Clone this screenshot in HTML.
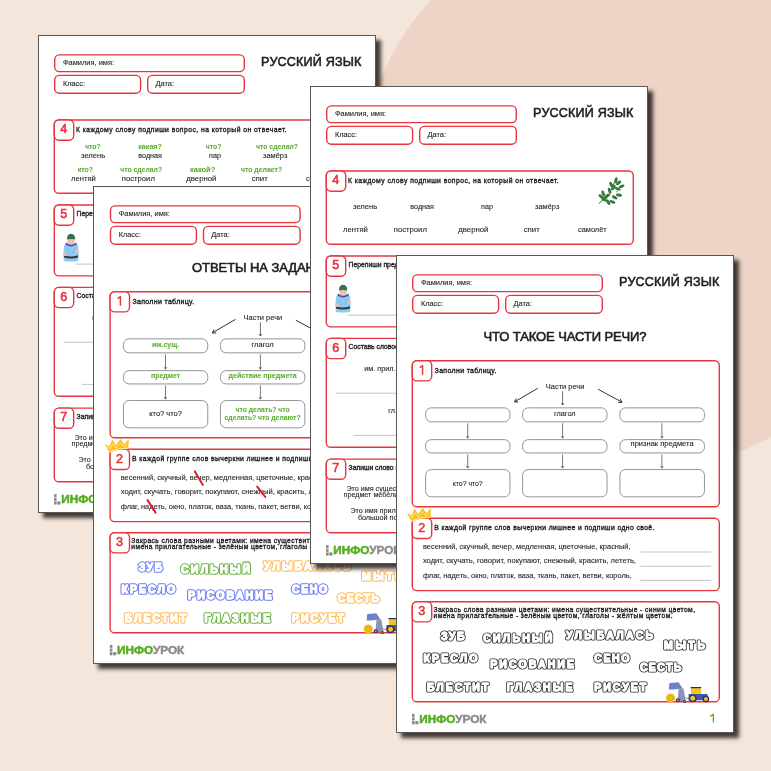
<!DOCTYPE html><html><head><meta charset="utf-8"><style>
html,body{margin:0;padding:0;}
body{width:771px;height:771px;overflow:hidden;position:relative;background:#f4e6da;font-family:"Liberation Sans",sans-serif;}
.circ{position:absolute;left:358.4px;top:-91.9px;width:561.4px;height:561.4px;border-radius:50%;background:#eed4c7;}
.pg{position:absolute;width:338px;height:478px;box-shadow:5px 5px 4px rgba(22,14,10,0.8);}
.pg svg{display:block;}
.pg{will-change:transform;}
</style></head><body>
<div class="circ"></div>
<div class="pg" style="left:38px;top:35px"><svg width="338" height="478" viewBox="0 0 338 478" font-family="Liberation Sans"><rect x="0.5" y="0.5" width="337" height="477" fill="#fff" stroke="#575757" stroke-width="1"/><rect x="16.70" y="19.90" width="189.60" height="16.70" rx="4.6" fill="none" stroke="#e7363f" stroke-width="1.4"/><rect x="16.70" y="40.40" width="85.90" height="17.80" rx="4.6" fill="none" stroke="#e7363f" stroke-width="1.4"/><rect x="109.70" y="40.40" width="96.60" height="17.80" rx="4.6" fill="none" stroke="#e7363f" stroke-width="1.4"/><text x="24.9" y="30.0" font-size="6.8" fill="#262626" stroke="#262626" stroke-width="0.1" textLength="51.2" lengthAdjust="spacingAndGlyphs">Фамилия, имя:</text><text x="24.9" y="50.8" font-size="6.8" fill="#262626" stroke="#262626" stroke-width="0.1" textLength="22.1" lengthAdjust="spacingAndGlyphs">Класс:</text><text x="117.5" y="50.8" font-size="6.8" fill="#262626" stroke="#262626" stroke-width="0.1" textLength="18.5" lengthAdjust="spacingAndGlyphs">Дата:</text><text x="223.1" y="30.8" font-size="12.6" fill="#1e1e1e" stroke="#1e1e1e" stroke-width="0.55" textLength="100.3" lengthAdjust="spacing">РУССКИЙ ЯЗЫК</text><rect x="16.30" y="85.00" width="307.00" height="73.30" rx="4.6" fill="#fff" stroke="#e7363f" stroke-width="1.4"/><rect x="16.30" y="85.00" width="19.40" height="20.20" rx="4.6" fill="#fff" stroke="#e7363f" stroke-width="1.4"/><text x="25.7" y="98.3" font-size="12.6" fill="#e7363f" stroke="#e7363f" stroke-width="0.6" text-anchor="middle">4</text><text x="37.9" y="97" font-size="6.8" fill="#1e1e1e" stroke="#1e1e1e" stroke-width="0.34" textLength="210.7" lengthAdjust="spacing">К каждому слову подпиши вопрос, на который он отвечает.</text><text x="43" y="122.8" font-size="7.4" fill="#262626" stroke="#262626" stroke-width="0.1" textLength="24.2" lengthAdjust="spacingAndGlyphs">зелень</text><text x="100.3" y="122.8" font-size="7.4" fill="#262626" stroke="#262626" stroke-width="0.1" textLength="23.7" lengthAdjust="spacingAndGlyphs">водная</text><text x="171" y="122.8" font-size="7.4" fill="#262626" stroke="#262626" stroke-width="0.1" textLength="11.9" lengthAdjust="spacingAndGlyphs">пар</text><text x="225" y="122.8" font-size="7.4" fill="#262626" stroke="#262626" stroke-width="0.1" textLength="24.3" lengthAdjust="spacingAndGlyphs">замёрз</text><text x="33" y="145.6" font-size="7.4" fill="#262626" stroke="#262626" stroke-width="0.1" textLength="24.8" lengthAdjust="spacingAndGlyphs">лентяй</text><text x="83.8" y="145.6" font-size="7.4" fill="#262626" stroke="#262626" stroke-width="0.1" textLength="33.1" lengthAdjust="spacingAndGlyphs">построил</text><text x="148.2" y="145.6" font-size="7.4" fill="#262626" stroke="#262626" stroke-width="0.1" textLength="30.3" lengthAdjust="spacingAndGlyphs">дверной</text><text x="213.7" y="145.6" font-size="7.4" fill="#262626" stroke="#262626" stroke-width="0.1" textLength="16.1" lengthAdjust="spacingAndGlyphs">спит</text><text x="268" y="145.6" font-size="7.4" fill="#262626" stroke="#262626" stroke-width="0.1" textLength="28.7" lengthAdjust="spacingAndGlyphs">самолёт</text><text x="47" y="114.0" font-size="7.4" fill="#5aae2e" font-weight="bold" stroke="#5aae2e" stroke-width="0.05" textLength="15.8" lengthAdjust="spacingAndGlyphs">что?</text><text x="100.3" y="114.0" font-size="7.4" fill="#5aae2e" font-weight="bold" stroke="#5aae2e" stroke-width="0.05" textLength="23.6" lengthAdjust="spacingAndGlyphs">какая?</text><text x="167.8" y="114.0" font-size="7.4" fill="#5aae2e" font-weight="bold" stroke="#5aae2e" stroke-width="0.05" textLength="15.7" lengthAdjust="spacingAndGlyphs">что?</text><text x="218" y="114.0" font-size="7.4" fill="#5aae2e" font-weight="bold" stroke="#5aae2e" stroke-width="0.05" textLength="42" lengthAdjust="spacingAndGlyphs">что сделал?</text><text x="39.7" y="137.0" font-size="7.4" fill="#5aae2e" font-weight="bold" stroke="#5aae2e" stroke-width="0.05" textLength="15.4" lengthAdjust="spacingAndGlyphs">кто?</text><text x="82.2" y="137.0" font-size="7.4" fill="#5aae2e" font-weight="bold" stroke="#5aae2e" stroke-width="0.05" textLength="41.9" lengthAdjust="spacingAndGlyphs">что сделал?</text><text x="152.1" y="137.0" font-size="7.4" fill="#5aae2e" font-weight="bold" stroke="#5aae2e" stroke-width="0.05" textLength="25.1" lengthAdjust="spacingAndGlyphs">какой?</text><text x="202.9" y="137.0" font-size="7.4" fill="#5aae2e" font-weight="bold" stroke="#5aae2e" stroke-width="0.05" textLength="41.3" lengthAdjust="spacingAndGlyphs">что делает?</text><text x="274" y="137.0" font-size="7.4" fill="#5aae2e" font-weight="bold" stroke="#5aae2e" stroke-width="0.05" textLength="16" lengthAdjust="spacingAndGlyphs">что?</text><g fill="#357a3d"><path d="M288.70000000000005 117.80000000000001 Q298 110 301 104 Q304 98 306 92.5" fill="none" stroke="#357a3d" stroke-width="1"/><ellipse cx="306.0" cy="94.2" rx="3.1" ry="1.55" transform="rotate(-80 306.0 94.2)"/><ellipse cx="308.6" cy="96.9" rx="3.1" ry="1.55" transform="rotate(-40 308.6 96.9)"/><ellipse cx="311.6" cy="100.4" rx="3.1" ry="1.55" transform="rotate(-20 311.6 100.4)"/><ellipse cx="301.2" cy="98.6" rx="3.1" ry="1.55" transform="rotate(-115 301.2 98.6)"/><ellipse cx="307.6" cy="102.9" rx="3.1" ry="1.55" transform="rotate(20 307.6 102.9)"/><ellipse cx="299.6" cy="104.7" rx="3.1" ry="1.55" transform="rotate(-110 299.6 104.7)"/><ellipse cx="308.9" cy="109.1" rx="3.1" ry="1.55" transform="rotate(10 308.9 109.1)"/><ellipse cx="293.2" cy="107.5" rx="3.1" ry="1.55" transform="rotate(-110 293.2 107.5)"/><ellipse cx="291.2" cy="110.6" rx="3.1" ry="1.55" transform="rotate(-140 291.2 110.6)"/><ellipse cx="304.6" cy="111.3" rx="3.1" ry="1.55" transform="rotate(30 304.6 111.3)"/><ellipse cx="298.2" cy="116.2" rx="3.1" ry="1.55" transform="rotate(60 298.2 116.2)"/><ellipse cx="302.4" cy="115.9" rx="3.1" ry="1.55" transform="rotate(20 302.4 115.9)"/><ellipse cx="295.6" cy="111.5" rx="3.1" ry="1.55" transform="rotate(-40 295.6 111.5)"/><ellipse cx="303.5" cy="101.5" rx="3.1" ry="1.55" transform="rotate(-60 303.5 101.5)"/><ellipse cx="297.5" cy="109.5" rx="3.1" ry="1.55" transform="rotate(-30 297.5 109.5)"/><ellipse cx="294.0" cy="113.5" rx="3.1" ry="1.55" transform="rotate(30 294.0 113.5)"/></g><circle cx="303.9" cy="97.0" r="0.85" fill="#ea8a86"/><circle cx="306.9" cy="105.6" r="0.85" fill="#ea8a86"/><circle cx="298.5" cy="107.7" r="0.85" fill="#ea8a86"/><rect x="16.30" y="170.00" width="307.00" height="70.90" rx="4.6" fill="#fff" stroke="#e7363f" stroke-width="1.4"/><rect x="16.30" y="170.00" width="19.40" height="20.20" rx="4.6" fill="#fff" stroke="#e7363f" stroke-width="1.4"/><text x="25.7" y="183.3" font-size="12.6" fill="#e7363f" stroke="#e7363f" stroke-width="0.6" text-anchor="middle">5</text><text x="38.6" y="181.0" font-size="6.8" fill="#1e1e1e" stroke="#1e1e1e" stroke-width="0.34">Перепиши предложение, подчеркни главные члены.</text><path d="M26.2 210.5 Q27 208 30 207.6 L36.2 207.6 Q39.4 208 40 210.5 L40.6 218 L40.2 226 Q33 227 25.8 226 L25.4 218 Z" fill="#8ecaf3"/><path d="M29.5 213 L31 219 M36.5 213 L35 219" stroke="#6aa8d6" stroke-width="0.4" fill="none"/><path d="M27.6 207.4 Q33 212.2 38.6 207.4 L38.4 209.8 Q33 213.2 27.8 209.8 Z" fill="#5a48a7"/><ellipse cx="33.1" cy="206.3" rx="3.7" ry="3.3" fill="#f2c5ab"/><circle cx="31.8" cy="206" r="0.3" fill="#6a4a3a"/><circle cx="34.4" cy="206" r="0.3" fill="#6a4a3a"/><path d="M29 204.6 Q28.8 198.8 33.1 198.7 Q37.4 198.8 37.2 204.6 Q33.1 203.2 29 204.6 Z" fill="#2f7450"/><path d="M26 220.3 Q33 222.8 40 220.3 L40 222.4 Q33 224.6 26 222.4 Z" fill="#353535"/><ellipse cx="26.9" cy="219.6" rx="2.1" ry="1.3" fill="#f2c5ab"/><ellipse cx="39.3" cy="216.6" rx="2.1" ry="1.4" fill="#f2c5ab"/><line x1="37.6" y1="229.1" x2="305" y2="229.1" stroke="#b4b4b4" stroke-width="0.8"/><rect x="16.30" y="252.40" width="307.00" height="108.90" rx="4.6" fill="#fff" stroke="#e7363f" stroke-width="1.4"/><rect x="16.30" y="252.40" width="19.40" height="20.20" rx="4.6" fill="#fff" stroke="#e7363f" stroke-width="1.4"/><text x="25.7" y="265.7" font-size="12.6" fill="#e7363f" stroke="#e7363f" stroke-width="0.6" text-anchor="middle">6</text><text x="38.6" y="263.0" font-size="6.8" fill="#1e1e1e" stroke="#1e1e1e" stroke-width="0.34">Составь словосочетания по схемам.</text><text x="54.3" y="284.7" font-size="7.2" fill="#262626" stroke="#262626" stroke-width="0.1">им. прил. + им. сущ.</text><line x1="25.6" y1="307.2" x2="160" y2="307.2" stroke="#b4b4b4" stroke-width="0.8"/><text x="78.3" y="326.9" font-size="7.2" fill="#262626" stroke="#262626" stroke-width="0.1">гл. + им. сущ.</text><line x1="43.7" y1="349.4" x2="160" y2="349.4" stroke="#b4b4b4" stroke-width="0.8"/><rect x="16.30" y="373.10" width="307.00" height="73.70" rx="4.6" fill="#fff" stroke="#e7363f" stroke-width="1.4"/><rect x="16.30" y="373.10" width="19.40" height="20.20" rx="4.6" fill="#fff" stroke="#e7363f" stroke-width="1.4"/><text x="25.7" y="386.4" font-size="12.6" fill="#e7363f" stroke="#e7363f" stroke-width="0.6" text-anchor="middle">7</text><text x="38.6" y="384.4" font-size="6.8" fill="#1e1e1e" stroke="#1e1e1e" stroke-width="0.34">Запиши слово по описанию.</text><text x="36.4" y="404.6" font-size="7.2" fill="#262626" stroke="#262626" stroke-width="0.1">Это имя существительное,</text><text x="33.5" y="410.7" font-size="7.2" fill="#262626" stroke="#262626" stroke-width="0.1">предмет мебели для сидения.</text><text x="40.4" y="427.3" font-size="7.2" fill="#262626" stroke="#262626" stroke-width="0.1">Это имя прилагательное,</text><text x="47.9" y="433.5" font-size="7.2" fill="#262626" stroke="#262626" stroke-width="0.1">большой по размеру.</text><rect x="16" y="459.2" width="2.6" height="3" fill="#8a8a8a"/><rect x="16" y="462.8" width="2.6" height="3" fill="#8a8a8a"/><rect x="16" y="466.4" width="2.6" height="3.2" fill="#8a8a8a"/><rect x="19.3" y="466.4" width="3.2" height="3.2" fill="#8a8a8a"/><text x="23.3" y="468.2" font-size="10.4" font-weight="bold" stroke-width="0.45" textLength="67.2" lengthAdjust="spacingAndGlyphs"><tspan fill="#55ad1f" stroke="#55ad1f">ИНФО</tspan><tspan fill="#8c8c8c" stroke="#8c8c8c">УРОК</tspan></text></svg></div>
<div class="pg" style="left:93px;top:186px"><svg width="338" height="478" viewBox="0 0 338 478" font-family="Liberation Sans"><rect x="0.5" y="0.5" width="337" height="477" fill="#fff" stroke="#575757" stroke-width="1"/><g transform="translate(0.8 0)"><rect x="16.70" y="19.90" width="189.60" height="16.70" rx="4.6" fill="none" stroke="#e7363f" stroke-width="1.4"/><rect x="16.70" y="40.40" width="85.90" height="17.80" rx="4.6" fill="none" stroke="#e7363f" stroke-width="1.4"/><rect x="109.70" y="40.40" width="96.60" height="17.80" rx="4.6" fill="none" stroke="#e7363f" stroke-width="1.4"/><text x="24.9" y="30.0" font-size="6.8" fill="#262626" stroke="#262626" stroke-width="0.1" textLength="51.2" lengthAdjust="spacingAndGlyphs">Фамилия, имя:</text><text x="24.9" y="50.8" font-size="6.8" fill="#262626" stroke="#262626" stroke-width="0.1" textLength="22.1" lengthAdjust="spacingAndGlyphs">Класс:</text><text x="117.5" y="50.8" font-size="6.8" fill="#262626" stroke="#262626" stroke-width="0.1" textLength="18.5" lengthAdjust="spacingAndGlyphs">Дата:</text><text x="223.1" y="30.8" font-size="12.6" fill="#1e1e1e" stroke="#1e1e1e" stroke-width="0.55" textLength="100.3" lengthAdjust="spacing">РУССКИЙ ЯЗЫК</text><text x="169" y="86" font-size="13" fill="#1e1e1e" stroke="#1e1e1e" stroke-width="0.6" text-anchor="middle" textLength="141.5" lengthAdjust="spacing">ОТВЕТЫ НА ЗАДАНИЯ</text><rect x="16.30" y="105.70" width="307.00" height="146.10" rx="4.6" fill="#fff" stroke="#e7363f" stroke-width="1.4"/><rect x="16.30" y="105.70" width="19.40" height="20.20" rx="4.6" fill="#fff" stroke="#e7363f" stroke-width="1.4"/><path d="M23.9 112.60 L26.6 110.60 L26.6 119.70" fill="none" stroke="#e7363f" stroke-width="1.45" stroke-linejoin="round"/><text x="38.6" y="118" font-size="7" fill="#1e1e1e" stroke="#1e1e1e" stroke-width="0.34" textLength="61.8" lengthAdjust="spacing">Заполни таблицу.</text><text x="149.8" y="133.6" font-size="8" fill="#1e1e1e" stroke="#1e1e1e" stroke-width="0.1" textLength="38.6" lengthAdjust="spacingAndGlyphs">Части речи</text><path d="M141.8 133.3 L118.5 146.9 M120.27 143.54 L118.5 146.9 L122.30 147.01" fill="none" stroke="#2a2a2a" stroke-width="0.95"/><path d="M202.0 134.2 L226.0 147.2 M222.21 147.44 L226.0 147.2 L224.13 143.89" fill="none" stroke="#2a2a2a" stroke-width="0.95"/><path d="M166.6 136.3 L166.6 150.0 M165.29999999999998 148.0 L166.6 150.0 L167.9 148.0" fill="none" stroke="#333" stroke-width="0.7"/><rect x="29.65" y="152.85" width="84.30" height="14.00" rx="5.6" fill="none" stroke="#888888" stroke-width="0.9"/><rect x="29.65" y="184.65" width="84.30" height="13.30" rx="5.6" fill="none" stroke="#888888" stroke-width="0.9"/><rect x="29.65" y="214.55" width="84.30" height="27.30" rx="5.6" fill="none" stroke="#888888" stroke-width="0.9"/><rect x="126.65" y="152.85" width="84.40" height="14.00" rx="5.6" fill="none" stroke="#888888" stroke-width="0.9"/><rect x="126.65" y="184.65" width="84.40" height="13.30" rx="5.6" fill="none" stroke="#888888" stroke-width="0.9"/><rect x="126.65" y="214.55" width="84.40" height="27.30" rx="5.6" fill="none" stroke="#888888" stroke-width="0.9"/><rect x="223.95" y="152.85" width="84.50" height="14.00" rx="5.6" fill="none" stroke="#888888" stroke-width="0.9"/><rect x="223.95" y="184.65" width="84.50" height="13.30" rx="5.6" fill="none" stroke="#888888" stroke-width="0.9"/><rect x="223.95" y="214.55" width="84.50" height="27.30" rx="5.6" fill="none" stroke="#888888" stroke-width="0.9"/><path d="M71.7 168.3 L71.7 183.2 M70.4 181.2 L71.7 183.2 L73.0 181.2" fill="none" stroke="#444" stroke-width="0.7"/><path d="M71.7 199.4 L71.7 213.1 M70.4 211.1 L71.7 213.1 L73.0 211.1" fill="none" stroke="#444" stroke-width="0.7"/><path d="M166.6 168.3 L166.6 183.2 M165.29999999999998 181.2 L166.6 183.2 L167.9 181.2" fill="none" stroke="#444" stroke-width="0.7"/><path d="M166.6 199.4 L166.6 213.1 M165.29999999999998 211.1 L166.6 213.1 L167.9 211.1" fill="none" stroke="#444" stroke-width="0.7"/><path d="M265.9 168.3 L265.9 183.2 M264.59999999999997 181.2 L265.9 183.2 L267.2 181.2" fill="none" stroke="#444" stroke-width="0.7"/><path d="M265.9 199.4 L265.9 213.1 M264.59999999999997 211.1 L265.9 213.1 L267.2 211.1" fill="none" stroke="#444" stroke-width="0.7"/><text x="71.8" y="161.1" font-size="7" fill="#5aae2e" font-weight="bold" stroke="#5aae2e" stroke-width="0.05" text-anchor="middle">им.сущ.</text><text x="168.8" y="160.9" font-size="7.5" fill="#1e1e1e" stroke="#1e1e1e" stroke-width="0.1" text-anchor="middle">глагол</text><text x="71.8" y="192.4" font-size="7" fill="#5aae2e" font-weight="bold" stroke="#5aae2e" stroke-width="0.05" text-anchor="middle">предмет</text><text x="168.8" y="191.6" font-size="7" fill="#5aae2e" font-weight="bold" stroke="#5aae2e" stroke-width="0.05" text-anchor="middle" textLength="68" lengthAdjust="spacingAndGlyphs">действие предмета</text><text x="71.8" y="230.4" font-size="7.5" fill="#1e1e1e" stroke="#1e1e1e" stroke-width="0.1" text-anchor="middle">кто? что?</text><text x="168.8" y="225.8" font-size="7" fill="#5aae2e" font-weight="bold" stroke="#5aae2e" stroke-width="0.05" text-anchor="middle" textLength="54" lengthAdjust="spacingAndGlyphs">что делать? что</text><text x="168.8" y="233.8" font-size="7" fill="#5aae2e" font-weight="bold" stroke="#5aae2e" stroke-width="0.05" text-anchor="middle" textLength="76" lengthAdjust="spacingAndGlyphs">сделать? что делают?</text><text x="266.2" y="160.9" font-size="7" fill="#5aae2e" font-weight="bold" stroke="#5aae2e" stroke-width="0.05" text-anchor="middle">им.прил.</text><text x="266.2" y="191.4" font-size="7.5" fill="#1e1e1e" stroke="#1e1e1e" stroke-width="0.1" text-anchor="middle">признак предмета</text><rect x="16.30" y="263.30" width="307.00" height="72.30" rx="4.6" fill="#fff" stroke="#e7363f" stroke-width="1.4"/><rect x="16.30" y="263.30" width="19.40" height="20.20" rx="4.6" fill="#fff" stroke="#e7363f" stroke-width="1.4"/><text x="25.7" y="276.6" font-size="12.6" fill="#e7363f" stroke="#e7363f" stroke-width="0.6" text-anchor="middle">2</text><text x="38.2" y="274.7" font-size="6.8" fill="#1e1e1e" stroke="#1e1e1e" stroke-width="0.34" textLength="220.2" lengthAdjust="spacing">В каждой группе слов вычеркни лишнее и подпиши одно своё.</text><text x="26.9" y="293.8" font-size="7.2" fill="#262626" stroke="#262626" stroke-width="0.1" textLength="207.7" lengthAdjust="spacingAndGlyphs">весенний, скучный, вечер, медленная, цветочные, красный,</text><text x="26.9" y="308.4" font-size="7.2" fill="#262626" stroke="#262626" stroke-width="0.1" textLength="213.1" lengthAdjust="spacingAndGlyphs">ходит, скучать, говорит, покупают, снежный, красить, лететь,</text><text x="26.9" y="322.7" font-size="7.2" fill="#262626" stroke="#262626" stroke-width="0.1" textLength="208.8" lengthAdjust="spacingAndGlyphs">флаг, надеть, окно, платок, ваза, ткань, пакет, ветви, король,</text><line x1="244.5" y1="297" x2="315" y2="297" stroke="#b4b4b4" stroke-width="0.8"/><line x1="244.5" y1="311.2" x2="315" y2="311.2" stroke="#b4b4b4" stroke-width="0.8"/><line x1="244.5" y1="325.3" x2="315" y2="325.3" stroke="#b4b4b4" stroke-width="0.8"/><path d="M11.7 258.4 L15.8 261.0 L18.5 253.9 L22.2 259.6 L26.7 253.3 L30.2 258.6 L34.8 253.7 L34.0 262.8 L24 263.6 L15.6 266.4 Z" fill="#fcc21b" stroke="#fcc21b" stroke-width="0.6" stroke-linejoin="round"/><path d="M13.6 261.3 L16.4 262.6 L18.9 257.6 L22.3 262.0 L26.6 256.8 L30.0 261.0 L33.6 257.3" fill="none" stroke="#fff6d6" stroke-width="0.65" stroke-linejoin="round"/><path d="M15.0 265.2 L24 262.4 L34.1 261.6 L34.0 262.8 L24 263.6 L15.6 266.4 Z" fill="#fde7a0"/><line x1="101" y1="285.4" x2="109.1" y2="298.9" stroke="#dc1f2b" stroke-width="2" stroke-linecap="round"/><line x1="163.4" y1="300.6" x2="171.5" y2="311" stroke="#dc1f2b" stroke-width="2" stroke-linecap="round"/><line x1="53.7" y1="314.1" x2="61.8" y2="326.6" stroke="#dc1f2b" stroke-width="2" stroke-linecap="round"/><rect x="16.30" y="346.70" width="307.00" height="100.10" rx="4.6" fill="#fff" stroke="#e7363f" stroke-width="1.4"/><rect x="16.30" y="346.70" width="19.40" height="20.20" rx="4.6" fill="#fff" stroke="#e7363f" stroke-width="1.4"/><text x="25.7" y="360.0" font-size="12.6" fill="#e7363f" stroke="#e7363f" stroke-width="0.6" text-anchor="middle">3</text><text x="37.5" y="357.1" font-size="6.7" fill="#1e1e1e" stroke="#1e1e1e" stroke-width="0.34" textLength="261.5" lengthAdjust="spacing">Закрась слова разными цветами: имена существительные - синим цветом,</text><text x="37.5" y="363.3" font-size="6.7" fill="#1e1e1e" stroke="#1e1e1e" stroke-width="0.34" textLength="239.0" lengthAdjust="spacing">имена прилагательные - зелёным цветом, глаголы - жёлтым цветом.</text><text x="44.9" y="384.5" font-size="10.6" font-weight="bold" textLength="23.7" lengthAdjust="spacing" stroke-linejoin="round" fill="#6b7ef4" stroke="#6b7ef4" stroke-width="3.4">ЗУБ</text><text x="44.9" y="384.5" font-size="10.6" font-weight="bold" textLength="23.7" lengthAdjust="spacing" stroke-linejoin="round" fill="#fff" stroke="#fff" stroke-width="1.3">ЗУБ</text><text x="87.2" y="386.5" font-size="10.6" font-weight="bold" textLength="69.1" lengthAdjust="spacing" stroke-linejoin="round" fill="#6db443" stroke="#6db443" stroke-width="3.4">СИЛЬНЫЙ</text><text x="87.2" y="386.5" font-size="10.6" font-weight="bold" textLength="69.1" lengthAdjust="spacing" stroke-linejoin="round" fill="#fff" stroke="#fff" stroke-width="1.3">СИЛЬНЫЙ</text><text x="170.0" y="383.8" font-size="10.6" font-weight="bold" textLength="87.2" lengthAdjust="spacing" stroke-linejoin="round" fill="#ffbb5c" stroke="#ffbb5c" stroke-width="3.4">УЛЫБАЛАСЬ</text><text x="170.0" y="383.8" font-size="10.6" font-weight="bold" textLength="87.2" lengthAdjust="spacing" stroke-linejoin="round" fill="#fff" stroke="#fff" stroke-width="1.3">УЛЫБАЛАСЬ</text><text x="268.1" y="394.1" font-size="10.6" font-weight="bold" textLength="40.9" lengthAdjust="spacing" stroke-linejoin="round" fill="#ffbb5c" stroke="#ffbb5c" stroke-width="3.4">МЫТЬ</text><text x="268.1" y="394.1" font-size="10.6" font-weight="bold" textLength="40.9" lengthAdjust="spacing" stroke-linejoin="round" fill="#fff" stroke="#fff" stroke-width="1.3">МЫТЬ</text><text x="27.6" y="407.4" font-size="10.6" font-weight="bold" textLength="53.8" lengthAdjust="spacing" stroke-linejoin="round" fill="#6b7ef4" stroke="#6b7ef4" stroke-width="3.4">КРЕСЛО</text><text x="27.6" y="407.4" font-size="10.6" font-weight="bold" textLength="53.8" lengthAdjust="spacing" stroke-linejoin="round" fill="#fff" stroke="#fff" stroke-width="1.3">КРЕСЛО</text><text x="94.2" y="413.0" font-size="10.6" font-weight="bold" textLength="83.9" lengthAdjust="spacing" stroke-linejoin="round" fill="#6b7ef4" stroke="#6b7ef4" stroke-width="3.4">РИСОВАНИЕ</text><text x="94.2" y="413.0" font-size="10.6" font-weight="bold" textLength="83.9" lengthAdjust="spacing" stroke-linejoin="round" fill="#fff" stroke="#fff" stroke-width="1.3">РИСОВАНИЕ</text><text x="198.2" y="407.4" font-size="10.6" font-weight="bold" textLength="35.2" lengthAdjust="spacing" stroke-linejoin="round" fill="#6b7ef4" stroke="#6b7ef4" stroke-width="3.4">СЕНО</text><text x="198.2" y="407.4" font-size="10.6" font-weight="bold" textLength="35.2" lengthAdjust="spacing" stroke-linejoin="round" fill="#fff" stroke="#fff" stroke-width="1.3">СЕНО</text><text x="243.9" y="416.2" font-size="10.6" font-weight="bold" textLength="41.5" lengthAdjust="spacing" stroke-linejoin="round" fill="#ffbb5c" stroke="#ffbb5c" stroke-width="3.4">СЕСТЬ</text><text x="243.9" y="416.2" font-size="10.6" font-weight="bold" textLength="41.5" lengthAdjust="spacing" stroke-linejoin="round" fill="#fff" stroke="#fff" stroke-width="1.3">СЕСТЬ</text><text x="31.0" y="436.0" font-size="10.6" font-weight="bold" textLength="61.4" lengthAdjust="spacing" stroke-linejoin="round" fill="#ffbb5c" stroke="#ffbb5c" stroke-width="3.4">БЛЕСТИТ</text><text x="31.0" y="436.0" font-size="10.6" font-weight="bold" textLength="61.4" lengthAdjust="spacing" stroke-linejoin="round" fill="#fff" stroke="#fff" stroke-width="1.3">БЛЕСТИТ</text><text x="110.8" y="435.9" font-size="10.6" font-weight="bold" textLength="65.8" lengthAdjust="spacing" stroke-linejoin="round" fill="#6db443" stroke="#6db443" stroke-width="3.4">ГЛАЗНЫЕ</text><text x="110.8" y="435.9" font-size="10.6" font-weight="bold" textLength="65.8" lengthAdjust="spacing" stroke-linejoin="round" fill="#fff" stroke="#fff" stroke-width="1.3">ГЛАЗНЫЕ</text><text x="198.2" y="436.0" font-size="10.6" font-weight="bold" textLength="52.0" lengthAdjust="spacing" stroke-linejoin="round" fill="#ffbb5c" stroke="#ffbb5c" stroke-width="3.4">РИСУЕТ</text><text x="198.2" y="436.0" font-size="10.6" font-weight="bold" textLength="52.0" lengthAdjust="spacing" stroke-linejoin="round" fill="#fff" stroke="#fff" stroke-width="1.3">РИСУЕТ</text><circle cx="274.5" cy="443" r="4.6" fill="#f2bd1c"/><circle cx="274.5" cy="443" r="2.4" fill="none" stroke="#c8900e" stroke-width="0.5"/><path d="M273.5 428 L282.5 427.2 L286.6 433.5 L277 434.6 L272.8 434.4 Z" fill="#6f7fc9"/><path d="M282.8 433 L287.5 433.5 L289.8 446 L281.5 446 Z" fill="#8b93b8"/><circle cx="281.9" cy="445.3" r="2" fill="#27306b"/><circle cx="281.9" cy="445.3" r="0.9" fill="#f2bd1c"/><circle cx="288.6" cy="446.4" r="1.5" fill="#27306b"/><circle cx="288.6" cy="446.4" r="0.6" fill="#f2bd1c"/><line x1="289" y1="443" x2="293" y2="443.5" stroke="#8b93b8" stroke-width="1"/><rect x="295" y="432.6" width="10" height="7" fill="#f6c21c"/><rect x="294.6" y="432" width="10.6" height="1.2" fill="#27306b"/><path d="M292.6 439 L311.5 439 L312.4 445 L292.6 445.5 Z" fill="#4656b0"/><circle cx="296.7" cy="443.3" r="3.9" fill="#27306b"/><circle cx="296.7" cy="443.3" r="2.5" fill="#f6c21c"/><circle cx="309.9" cy="444.1" r="3.3" fill="#27306b"/><circle cx="309.9" cy="444.1" r="2" fill="#f6c21c"/><rect x="16" y="458.9" width="2.6" height="3" fill="#8a8a8a"/><rect x="16" y="462.5" width="2.6" height="3" fill="#8a8a8a"/><rect x="16" y="466.09999999999997" width="2.6" height="3.2" fill="#8a8a8a"/><rect x="19.3" y="466.09999999999997" width="3.2" height="3.2" fill="#8a8a8a"/><text x="23.3" y="467.9" font-size="10.4" font-weight="bold" stroke-width="0.45" textLength="67.2" lengthAdjust="spacingAndGlyphs"><tspan fill="#55ad1f" stroke="#55ad1f">ИНФО</tspan><tspan fill="#8c8c8c" stroke="#8c8c8c">УРОК</tspan></text></g></svg></div>
<div class="pg" style="left:310px;top:86px"><svg width="338" height="478" viewBox="0 0 338 478" font-family="Liberation Sans"><rect x="0.5" y="0.5" width="337" height="477" fill="#fff" stroke="#575757" stroke-width="1"/><rect x="16.70" y="19.90" width="189.60" height="16.70" rx="4.6" fill="none" stroke="#e7363f" stroke-width="1.4"/><rect x="16.70" y="40.40" width="85.90" height="17.80" rx="4.6" fill="none" stroke="#e7363f" stroke-width="1.4"/><rect x="109.70" y="40.40" width="96.60" height="17.80" rx="4.6" fill="none" stroke="#e7363f" stroke-width="1.4"/><text x="24.9" y="30.0" font-size="6.8" fill="#262626" stroke="#262626" stroke-width="0.1" textLength="51.2" lengthAdjust="spacingAndGlyphs">Фамилия, имя:</text><text x="24.9" y="50.8" font-size="6.8" fill="#262626" stroke="#262626" stroke-width="0.1" textLength="22.1" lengthAdjust="spacingAndGlyphs">Класс:</text><text x="117.5" y="50.8" font-size="6.8" fill="#262626" stroke="#262626" stroke-width="0.1" textLength="18.5" lengthAdjust="spacingAndGlyphs">Дата:</text><text x="223.1" y="30.8" font-size="12.6" fill="#1e1e1e" stroke="#1e1e1e" stroke-width="0.55" textLength="100.3" lengthAdjust="spacing">РУССКИЙ ЯЗЫК</text><rect x="16.30" y="85.00" width="307.00" height="73.30" rx="4.6" fill="#fff" stroke="#e7363f" stroke-width="1.4"/><rect x="16.30" y="85.00" width="19.40" height="20.20" rx="4.6" fill="#fff" stroke="#e7363f" stroke-width="1.4"/><text x="25.7" y="98.3" font-size="12.6" fill="#e7363f" stroke="#e7363f" stroke-width="0.6" text-anchor="middle">4</text><text x="37.9" y="97" font-size="6.8" fill="#1e1e1e" stroke="#1e1e1e" stroke-width="0.34" textLength="210.7" lengthAdjust="spacing">К каждому слову подпиши вопрос, на который он отвечает.</text><text x="43" y="122.8" font-size="7.4" fill="#262626" stroke="#262626" stroke-width="0.1" textLength="24.2" lengthAdjust="spacingAndGlyphs">зелень</text><text x="100.3" y="122.8" font-size="7.4" fill="#262626" stroke="#262626" stroke-width="0.1" textLength="23.7" lengthAdjust="spacingAndGlyphs">водная</text><text x="171" y="122.8" font-size="7.4" fill="#262626" stroke="#262626" stroke-width="0.1" textLength="11.9" lengthAdjust="spacingAndGlyphs">пар</text><text x="225" y="122.8" font-size="7.4" fill="#262626" stroke="#262626" stroke-width="0.1" textLength="24.3" lengthAdjust="spacingAndGlyphs">замёрз</text><text x="33" y="145.6" font-size="7.4" fill="#262626" stroke="#262626" stroke-width="0.1" textLength="24.8" lengthAdjust="spacingAndGlyphs">лентяй</text><text x="83.8" y="145.6" font-size="7.4" fill="#262626" stroke="#262626" stroke-width="0.1" textLength="33.1" lengthAdjust="spacingAndGlyphs">построил</text><text x="148.2" y="145.6" font-size="7.4" fill="#262626" stroke="#262626" stroke-width="0.1" textLength="30.3" lengthAdjust="spacingAndGlyphs">дверной</text><text x="213.7" y="145.6" font-size="7.4" fill="#262626" stroke="#262626" stroke-width="0.1" textLength="16.1" lengthAdjust="spacingAndGlyphs">спит</text><text x="268" y="145.6" font-size="7.4" fill="#262626" stroke="#262626" stroke-width="0.1" textLength="28.7" lengthAdjust="spacingAndGlyphs">самолёт</text><g fill="#357a3d"><path d="M288.70000000000005 117.80000000000001 Q298 110 301 104 Q304 98 306 92.5" fill="none" stroke="#357a3d" stroke-width="1"/><ellipse cx="306.0" cy="94.2" rx="3.1" ry="1.55" transform="rotate(-80 306.0 94.2)"/><ellipse cx="308.6" cy="96.9" rx="3.1" ry="1.55" transform="rotate(-40 308.6 96.9)"/><ellipse cx="311.6" cy="100.4" rx="3.1" ry="1.55" transform="rotate(-20 311.6 100.4)"/><ellipse cx="301.2" cy="98.6" rx="3.1" ry="1.55" transform="rotate(-115 301.2 98.6)"/><ellipse cx="307.6" cy="102.9" rx="3.1" ry="1.55" transform="rotate(20 307.6 102.9)"/><ellipse cx="299.6" cy="104.7" rx="3.1" ry="1.55" transform="rotate(-110 299.6 104.7)"/><ellipse cx="308.9" cy="109.1" rx="3.1" ry="1.55" transform="rotate(10 308.9 109.1)"/><ellipse cx="293.2" cy="107.5" rx="3.1" ry="1.55" transform="rotate(-110 293.2 107.5)"/><ellipse cx="291.2" cy="110.6" rx="3.1" ry="1.55" transform="rotate(-140 291.2 110.6)"/><ellipse cx="304.6" cy="111.3" rx="3.1" ry="1.55" transform="rotate(30 304.6 111.3)"/><ellipse cx="298.2" cy="116.2" rx="3.1" ry="1.55" transform="rotate(60 298.2 116.2)"/><ellipse cx="302.4" cy="115.9" rx="3.1" ry="1.55" transform="rotate(20 302.4 115.9)"/><ellipse cx="295.6" cy="111.5" rx="3.1" ry="1.55" transform="rotate(-40 295.6 111.5)"/><ellipse cx="303.5" cy="101.5" rx="3.1" ry="1.55" transform="rotate(-60 303.5 101.5)"/><ellipse cx="297.5" cy="109.5" rx="3.1" ry="1.55" transform="rotate(-30 297.5 109.5)"/><ellipse cx="294.0" cy="113.5" rx="3.1" ry="1.55" transform="rotate(30 294.0 113.5)"/></g><circle cx="303.9" cy="97.0" r="0.85" fill="#ea8a86"/><circle cx="306.9" cy="105.6" r="0.85" fill="#ea8a86"/><circle cx="298.5" cy="107.7" r="0.85" fill="#ea8a86"/><rect x="16.30" y="170.00" width="307.00" height="70.90" rx="4.6" fill="#fff" stroke="#e7363f" stroke-width="1.4"/><rect x="16.30" y="170.00" width="19.40" height="20.20" rx="4.6" fill="#fff" stroke="#e7363f" stroke-width="1.4"/><text x="25.7" y="183.3" font-size="12.6" fill="#e7363f" stroke="#e7363f" stroke-width="0.6" text-anchor="middle">5</text><text x="38.6" y="181.0" font-size="6.8" fill="#1e1e1e" stroke="#1e1e1e" stroke-width="0.34">Перепиши предложение, подчеркни главные члены.</text><path d="M26.2 210.5 Q27 208 30 207.6 L36.2 207.6 Q39.4 208 40 210.5 L40.6 218 L40.2 226 Q33 227 25.8 226 L25.4 218 Z" fill="#8ecaf3"/><path d="M29.5 213 L31 219 M36.5 213 L35 219" stroke="#6aa8d6" stroke-width="0.4" fill="none"/><path d="M27.6 207.4 Q33 212.2 38.6 207.4 L38.4 209.8 Q33 213.2 27.8 209.8 Z" fill="#5a48a7"/><ellipse cx="33.1" cy="206.3" rx="3.7" ry="3.3" fill="#f2c5ab"/><circle cx="31.8" cy="206" r="0.3" fill="#6a4a3a"/><circle cx="34.4" cy="206" r="0.3" fill="#6a4a3a"/><path d="M29 204.6 Q28.8 198.8 33.1 198.7 Q37.4 198.8 37.2 204.6 Q33.1 203.2 29 204.6 Z" fill="#2f7450"/><path d="M26 220.3 Q33 222.8 40 220.3 L40 222.4 Q33 224.6 26 222.4 Z" fill="#353535"/><ellipse cx="26.9" cy="219.6" rx="2.1" ry="1.3" fill="#f2c5ab"/><ellipse cx="39.3" cy="216.6" rx="2.1" ry="1.4" fill="#f2c5ab"/><line x1="37.6" y1="229.1" x2="305" y2="229.1" stroke="#b4b4b4" stroke-width="0.8"/><rect x="16.30" y="252.40" width="307.00" height="108.90" rx="4.6" fill="#fff" stroke="#e7363f" stroke-width="1.4"/><rect x="16.30" y="252.40" width="19.40" height="20.20" rx="4.6" fill="#fff" stroke="#e7363f" stroke-width="1.4"/><text x="25.7" y="265.7" font-size="12.6" fill="#e7363f" stroke="#e7363f" stroke-width="0.6" text-anchor="middle">6</text><text x="38.6" y="263.0" font-size="6.8" fill="#1e1e1e" stroke="#1e1e1e" stroke-width="0.34">Составь словосочетания по схемам.</text><text x="54.3" y="284.7" font-size="7.2" fill="#262626" stroke="#262626" stroke-width="0.1">им. прил. + им. сущ.</text><line x1="25.6" y1="307.2" x2="160" y2="307.2" stroke="#b4b4b4" stroke-width="0.8"/><text x="78.3" y="326.9" font-size="7.2" fill="#262626" stroke="#262626" stroke-width="0.1">гл. + им. сущ.</text><line x1="43.7" y1="349.4" x2="160" y2="349.4" stroke="#b4b4b4" stroke-width="0.8"/><rect x="16.30" y="373.10" width="307.00" height="73.70" rx="4.6" fill="#fff" stroke="#e7363f" stroke-width="1.4"/><rect x="16.30" y="373.10" width="19.40" height="20.20" rx="4.6" fill="#fff" stroke="#e7363f" stroke-width="1.4"/><text x="25.7" y="386.4" font-size="12.6" fill="#e7363f" stroke="#e7363f" stroke-width="0.6" text-anchor="middle">7</text><text x="38.6" y="384.4" font-size="6.8" fill="#1e1e1e" stroke="#1e1e1e" stroke-width="0.34">Запиши слово по описанию.</text><text x="36.4" y="404.6" font-size="7.2" fill="#262626" stroke="#262626" stroke-width="0.1">Это имя существительное,</text><text x="33.5" y="410.7" font-size="7.2" fill="#262626" stroke="#262626" stroke-width="0.1">предмет мебели для сидения.</text><text x="40.4" y="427.3" font-size="7.2" fill="#262626" stroke="#262626" stroke-width="0.1">Это имя прилагательное,</text><text x="47.9" y="433.5" font-size="7.2" fill="#262626" stroke="#262626" stroke-width="0.1">большой по размеру.</text><rect x="16" y="459.2" width="2.6" height="3" fill="#8a8a8a"/><rect x="16" y="462.8" width="2.6" height="3" fill="#8a8a8a"/><rect x="16" y="466.4" width="2.6" height="3.2" fill="#8a8a8a"/><rect x="19.3" y="466.4" width="3.2" height="3.2" fill="#8a8a8a"/><text x="23.3" y="468.2" font-size="10.4" font-weight="bold" stroke-width="0.45" textLength="67.2" lengthAdjust="spacingAndGlyphs"><tspan fill="#55ad1f" stroke="#55ad1f">ИНФО</tspan><tspan fill="#8c8c8c" stroke="#8c8c8c">УРОК</tspan></text></svg></div>
<div class="pg" style="left:396px;top:255px"><svg width="338" height="478" viewBox="0 0 338 478" font-family="Liberation Sans"><rect x="0.5" y="0.5" width="337" height="477" fill="#fff" stroke="#575757" stroke-width="1"/><rect x="16.70" y="19.90" width="189.60" height="16.70" rx="4.6" fill="none" stroke="#e7363f" stroke-width="1.4"/><rect x="16.70" y="40.40" width="85.90" height="17.80" rx="4.6" fill="none" stroke="#e7363f" stroke-width="1.4"/><rect x="109.70" y="40.40" width="96.60" height="17.80" rx="4.6" fill="none" stroke="#e7363f" stroke-width="1.4"/><text x="24.9" y="30.0" font-size="6.8" fill="#262626" stroke="#262626" stroke-width="0.1" textLength="51.2" lengthAdjust="spacingAndGlyphs">Фамилия, имя:</text><text x="24.9" y="50.8" font-size="6.8" fill="#262626" stroke="#262626" stroke-width="0.1" textLength="22.1" lengthAdjust="spacingAndGlyphs">Класс:</text><text x="117.5" y="50.8" font-size="6.8" fill="#262626" stroke="#262626" stroke-width="0.1" textLength="18.5" lengthAdjust="spacingAndGlyphs">Дата:</text><text x="223.1" y="30.8" font-size="12.6" fill="#1e1e1e" stroke="#1e1e1e" stroke-width="0.55" textLength="100.3" lengthAdjust="spacing">РУССКИЙ ЯЗЫК</text><text x="169" y="85.9" font-size="13" fill="#1e1e1e" stroke="#1e1e1e" stroke-width="0.6" text-anchor="middle" textLength="163" lengthAdjust="spacing">ЧТО ТАКОЕ ЧАСТИ РЕЧИ?</text><rect x="16.30" y="105.70" width="307.00" height="146.10" rx="4.6" fill="#fff" stroke="#e7363f" stroke-width="1.4"/><rect x="16.30" y="105.70" width="19.40" height="20.20" rx="4.6" fill="#fff" stroke="#e7363f" stroke-width="1.4"/><path d="M23.9 112.60 L26.6 110.60 L26.6 119.70" fill="none" stroke="#e7363f" stroke-width="1.45" stroke-linejoin="round"/><text x="38.6" y="118" font-size="7" fill="#1e1e1e" stroke="#1e1e1e" stroke-width="0.34" textLength="61.8" lengthAdjust="spacing">Заполни таблицу.</text><text x="149.8" y="133.6" font-size="8" fill="#1e1e1e" stroke="#1e1e1e" stroke-width="0.1" textLength="38.6" lengthAdjust="spacingAndGlyphs">Части речи</text><path d="M141.8 133.3 L118.5 146.9 M120.27 143.54 L118.5 146.9 L122.30 147.01" fill="none" stroke="#2a2a2a" stroke-width="0.95"/><path d="M202.0 134.2 L226.0 147.2 M222.21 147.44 L226.0 147.2 L224.13 143.89" fill="none" stroke="#2a2a2a" stroke-width="0.95"/><path d="M166.6 136.3 L166.6 150.0 M165.29999999999998 148.0 L166.6 150.0 L167.9 148.0" fill="none" stroke="#333" stroke-width="0.7"/><rect x="29.65" y="152.85" width="84.30" height="14.00" rx="5.6" fill="none" stroke="#888888" stroke-width="0.9"/><rect x="29.65" y="184.65" width="84.30" height="13.30" rx="5.6" fill="none" stroke="#888888" stroke-width="0.9"/><rect x="29.65" y="214.55" width="84.30" height="27.30" rx="5.6" fill="none" stroke="#888888" stroke-width="0.9"/><rect x="126.65" y="152.85" width="84.40" height="14.00" rx="5.6" fill="none" stroke="#888888" stroke-width="0.9"/><rect x="126.65" y="184.65" width="84.40" height="13.30" rx="5.6" fill="none" stroke="#888888" stroke-width="0.9"/><rect x="126.65" y="214.55" width="84.40" height="27.30" rx="5.6" fill="none" stroke="#888888" stroke-width="0.9"/><rect x="223.95" y="152.85" width="84.50" height="14.00" rx="5.6" fill="none" stroke="#888888" stroke-width="0.9"/><rect x="223.95" y="184.65" width="84.50" height="13.30" rx="5.6" fill="none" stroke="#888888" stroke-width="0.9"/><rect x="223.95" y="214.55" width="84.50" height="27.30" rx="5.6" fill="none" stroke="#888888" stroke-width="0.9"/><path d="M71.7 168.3 L71.7 183.2 M70.4 181.2 L71.7 183.2 L73.0 181.2" fill="none" stroke="#444" stroke-width="0.7"/><path d="M71.7 199.4 L71.7 213.1 M70.4 211.1 L71.7 213.1 L73.0 211.1" fill="none" stroke="#444" stroke-width="0.7"/><path d="M166.6 168.3 L166.6 183.2 M165.29999999999998 181.2 L166.6 183.2 L167.9 181.2" fill="none" stroke="#444" stroke-width="0.7"/><path d="M166.6 199.4 L166.6 213.1 M165.29999999999998 211.1 L166.6 213.1 L167.9 211.1" fill="none" stroke="#444" stroke-width="0.7"/><path d="M265.9 168.3 L265.9 183.2 M264.59999999999997 181.2 L265.9 183.2 L267.2 181.2" fill="none" stroke="#444" stroke-width="0.7"/><path d="M265.9 199.4 L265.9 213.1 M264.59999999999997 211.1 L265.9 213.1 L267.2 211.1" fill="none" stroke="#444" stroke-width="0.7"/><text x="168.8" y="160.9" font-size="7.5" fill="#1e1e1e" stroke="#1e1e1e" stroke-width="0.1" text-anchor="middle" textLength="21.5" lengthAdjust="spacingAndGlyphs">глагол</text><text x="266.1" y="191.4" font-size="7.5" fill="#1e1e1e" stroke="#1e1e1e" stroke-width="0.1" text-anchor="middle" textLength="63" lengthAdjust="spacingAndGlyphs">признак предмета</text><text x="71.7" y="230.6" font-size="7.5" fill="#1e1e1e" stroke="#1e1e1e" stroke-width="0.1" text-anchor="middle" textLength="30" lengthAdjust="spacingAndGlyphs">кто? что?</text><rect x="16.30" y="263.30" width="307.00" height="72.30" rx="4.6" fill="#fff" stroke="#e7363f" stroke-width="1.4"/><rect x="16.30" y="263.30" width="19.40" height="20.20" rx="4.6" fill="#fff" stroke="#e7363f" stroke-width="1.4"/><text x="25.7" y="276.6" font-size="12.6" fill="#e7363f" stroke="#e7363f" stroke-width="0.6" text-anchor="middle">2</text><text x="38.2" y="274.7" font-size="6.8" fill="#1e1e1e" stroke="#1e1e1e" stroke-width="0.34" textLength="220.2" lengthAdjust="spacing">В каждой группе слов вычеркни лишнее и подпиши одно своё.</text><text x="26.9" y="293.8" font-size="7.2" fill="#262626" stroke="#262626" stroke-width="0.1" textLength="207.7" lengthAdjust="spacingAndGlyphs">весенний, скучный, вечер, медленная, цветочные, красный,</text><text x="26.9" y="308.4" font-size="7.2" fill="#262626" stroke="#262626" stroke-width="0.1" textLength="213.1" lengthAdjust="spacingAndGlyphs">ходит, скучать, говорит, покупают, снежный, красить, лететь,</text><text x="26.9" y="322.7" font-size="7.2" fill="#262626" stroke="#262626" stroke-width="0.1" textLength="208.8" lengthAdjust="spacingAndGlyphs">флаг, надеть, окно, платок, ваза, ткань, пакет, ветви, король,</text><line x1="244.5" y1="297" x2="315" y2="297" stroke="#b4b4b4" stroke-width="0.8"/><line x1="244.5" y1="311.2" x2="315" y2="311.2" stroke="#b4b4b4" stroke-width="0.8"/><line x1="244.5" y1="325.3" x2="315" y2="325.3" stroke="#b4b4b4" stroke-width="0.8"/><path d="M11.7 258.4 L15.8 261.0 L18.5 253.9 L22.2 259.6 L26.7 253.3 L30.2 258.6 L34.8 253.7 L34.0 262.8 L24 263.6 L15.6 266.4 Z" fill="#fcc21b" stroke="#fcc21b" stroke-width="0.6" stroke-linejoin="round"/><path d="M13.6 261.3 L16.4 262.6 L18.9 257.6 L22.3 262.0 L26.6 256.8 L30.0 261.0 L33.6 257.3" fill="none" stroke="#fff6d6" stroke-width="0.65" stroke-linejoin="round"/><path d="M15.0 265.2 L24 262.4 L34.1 261.6 L34.0 262.8 L24 263.6 L15.6 266.4 Z" fill="#fde7a0"/><rect x="16.30" y="346.70" width="307.00" height="100.10" rx="4.6" fill="#fff" stroke="#e7363f" stroke-width="1.4"/><rect x="16.30" y="346.70" width="19.40" height="20.20" rx="4.6" fill="#fff" stroke="#e7363f" stroke-width="1.4"/><text x="25.7" y="360.0" font-size="12.6" fill="#e7363f" stroke="#e7363f" stroke-width="0.6" text-anchor="middle">3</text><text x="37.5" y="357.1" font-size="6.7" fill="#1e1e1e" stroke="#1e1e1e" stroke-width="0.34" textLength="261.5" lengthAdjust="spacing">Закрась слова разными цветами: имена существительные - синим цветом,</text><text x="37.5" y="363.3" font-size="6.7" fill="#1e1e1e" stroke="#1e1e1e" stroke-width="0.34" textLength="239.0" lengthAdjust="spacing">имена прилагательные - зелёным цветом, глаголы - жёлтым цветом.</text><text x="44.9" y="384.5" font-size="10.6" font-weight="bold" textLength="23.7" lengthAdjust="spacing" stroke-linejoin="round" fill="#2b2b2b" stroke="#2b2b2b" stroke-width="3.0">ЗУБ</text><text x="44.9" y="384.5" font-size="10.6" font-weight="bold" textLength="23.7" lengthAdjust="spacing" stroke-linejoin="round" fill="#fff" stroke="#fff" stroke-width="1.3">ЗУБ</text><text x="87.2" y="386.5" font-size="10.6" font-weight="bold" textLength="69.1" lengthAdjust="spacing" stroke-linejoin="round" fill="#2b2b2b" stroke="#2b2b2b" stroke-width="3.0">СИЛЬНЫЙ</text><text x="87.2" y="386.5" font-size="10.6" font-weight="bold" textLength="69.1" lengthAdjust="spacing" stroke-linejoin="round" fill="#fff" stroke="#fff" stroke-width="1.3">СИЛЬНЫЙ</text><text x="170.0" y="383.8" font-size="10.6" font-weight="bold" textLength="87.2" lengthAdjust="spacing" stroke-linejoin="round" fill="#2b2b2b" stroke="#2b2b2b" stroke-width="3.0">УЛЫБАЛАСЬ</text><text x="170.0" y="383.8" font-size="10.6" font-weight="bold" textLength="87.2" lengthAdjust="spacing" stroke-linejoin="round" fill="#fff" stroke="#fff" stroke-width="1.3">УЛЫБАЛАСЬ</text><text x="268.1" y="394.1" font-size="10.6" font-weight="bold" textLength="40.9" lengthAdjust="spacing" stroke-linejoin="round" fill="#2b2b2b" stroke="#2b2b2b" stroke-width="3.0">МЫТЬ</text><text x="268.1" y="394.1" font-size="10.6" font-weight="bold" textLength="40.9" lengthAdjust="spacing" stroke-linejoin="round" fill="#fff" stroke="#fff" stroke-width="1.3">МЫТЬ</text><text x="27.6" y="407.4" font-size="10.6" font-weight="bold" textLength="53.8" lengthAdjust="spacing" stroke-linejoin="round" fill="#2b2b2b" stroke="#2b2b2b" stroke-width="3.0">КРЕСЛО</text><text x="27.6" y="407.4" font-size="10.6" font-weight="bold" textLength="53.8" lengthAdjust="spacing" stroke-linejoin="round" fill="#fff" stroke="#fff" stroke-width="1.3">КРЕСЛО</text><text x="94.2" y="413.0" font-size="10.6" font-weight="bold" textLength="83.9" lengthAdjust="spacing" stroke-linejoin="round" fill="#2b2b2b" stroke="#2b2b2b" stroke-width="3.0">РИСОВАНИЕ</text><text x="94.2" y="413.0" font-size="10.6" font-weight="bold" textLength="83.9" lengthAdjust="spacing" stroke-linejoin="round" fill="#fff" stroke="#fff" stroke-width="1.3">РИСОВАНИЕ</text><text x="198.2" y="407.4" font-size="10.6" font-weight="bold" textLength="35.2" lengthAdjust="spacing" stroke-linejoin="round" fill="#2b2b2b" stroke="#2b2b2b" stroke-width="3.0">СЕНО</text><text x="198.2" y="407.4" font-size="10.6" font-weight="bold" textLength="35.2" lengthAdjust="spacing" stroke-linejoin="round" fill="#fff" stroke="#fff" stroke-width="1.3">СЕНО</text><text x="243.9" y="416.2" font-size="10.6" font-weight="bold" textLength="41.5" lengthAdjust="spacing" stroke-linejoin="round" fill="#2b2b2b" stroke="#2b2b2b" stroke-width="3.0">СЕСТЬ</text><text x="243.9" y="416.2" font-size="10.6" font-weight="bold" textLength="41.5" lengthAdjust="spacing" stroke-linejoin="round" fill="#fff" stroke="#fff" stroke-width="1.3">СЕСТЬ</text><text x="31.0" y="436.0" font-size="10.6" font-weight="bold" textLength="61.4" lengthAdjust="spacing" stroke-linejoin="round" fill="#2b2b2b" stroke="#2b2b2b" stroke-width="3.0">БЛЕСТИТ</text><text x="31.0" y="436.0" font-size="10.6" font-weight="bold" textLength="61.4" lengthAdjust="spacing" stroke-linejoin="round" fill="#fff" stroke="#fff" stroke-width="1.3">БЛЕСТИТ</text><text x="110.8" y="435.9" font-size="10.6" font-weight="bold" textLength="65.8" lengthAdjust="spacing" stroke-linejoin="round" fill="#2b2b2b" stroke="#2b2b2b" stroke-width="3.0">ГЛАЗНЫЕ</text><text x="110.8" y="435.9" font-size="10.6" font-weight="bold" textLength="65.8" lengthAdjust="spacing" stroke-linejoin="round" fill="#fff" stroke="#fff" stroke-width="1.3">ГЛАЗНЫЕ</text><text x="198.2" y="436.0" font-size="10.6" font-weight="bold" textLength="52.0" lengthAdjust="spacing" stroke-linejoin="round" fill="#2b2b2b" stroke="#2b2b2b" stroke-width="3.0">РИСУЕТ</text><text x="198.2" y="436.0" font-size="10.6" font-weight="bold" textLength="52.0" lengthAdjust="spacing" stroke-linejoin="round" fill="#fff" stroke="#fff" stroke-width="1.3">РИСУЕТ</text><circle cx="274.5" cy="443" r="4.6" fill="#f2bd1c"/><circle cx="274.5" cy="443" r="2.4" fill="none" stroke="#c8900e" stroke-width="0.5"/><path d="M273.5 428 L282.5 427.2 L286.6 433.5 L277 434.6 L272.8 434.4 Z" fill="#6f7fc9"/><path d="M282.8 433 L287.5 433.5 L289.8 446 L281.5 446 Z" fill="#8b93b8"/><circle cx="281.9" cy="445.3" r="2" fill="#27306b"/><circle cx="281.9" cy="445.3" r="0.9" fill="#f2bd1c"/><circle cx="288.6" cy="446.4" r="1.5" fill="#27306b"/><circle cx="288.6" cy="446.4" r="0.6" fill="#f2bd1c"/><line x1="289" y1="443" x2="293" y2="443.5" stroke="#8b93b8" stroke-width="1"/><rect x="295" y="432.6" width="10" height="7" fill="#f6c21c"/><rect x="294.6" y="432" width="10.6" height="1.2" fill="#27306b"/><path d="M292.6 439 L311.5 439 L312.4 445 L292.6 445.5 Z" fill="#4656b0"/><circle cx="296.7" cy="443.3" r="3.9" fill="#27306b"/><circle cx="296.7" cy="443.3" r="2.5" fill="#f6c21c"/><circle cx="309.9" cy="444.1" r="3.3" fill="#27306b"/><circle cx="309.9" cy="444.1" r="2" fill="#f6c21c"/><rect x="16" y="458.9" width="2.6" height="3" fill="#8a8a8a"/><rect x="16" y="462.5" width="2.6" height="3" fill="#8a8a8a"/><rect x="16" y="466.09999999999997" width="2.6" height="3.2" fill="#8a8a8a"/><rect x="19.3" y="466.09999999999997" width="3.2" height="3.2" fill="#8a8a8a"/><text x="23.3" y="467.9" font-size="10.4" font-weight="bold" stroke-width="0.45" textLength="67.2" lengthAdjust="spacingAndGlyphs"><tspan fill="#55ad1f" stroke="#55ad1f">ИНФО</tspan><tspan fill="#8c8c8c" stroke="#8c8c8c">УРОК</tspan></text><path d="M314.4 461.4 L317.4 459.2 L317.4 467.6" fill="none" stroke="#5aae2e" stroke-width="1.35" stroke-linejoin="round"/></svg></div>
</body></html>
